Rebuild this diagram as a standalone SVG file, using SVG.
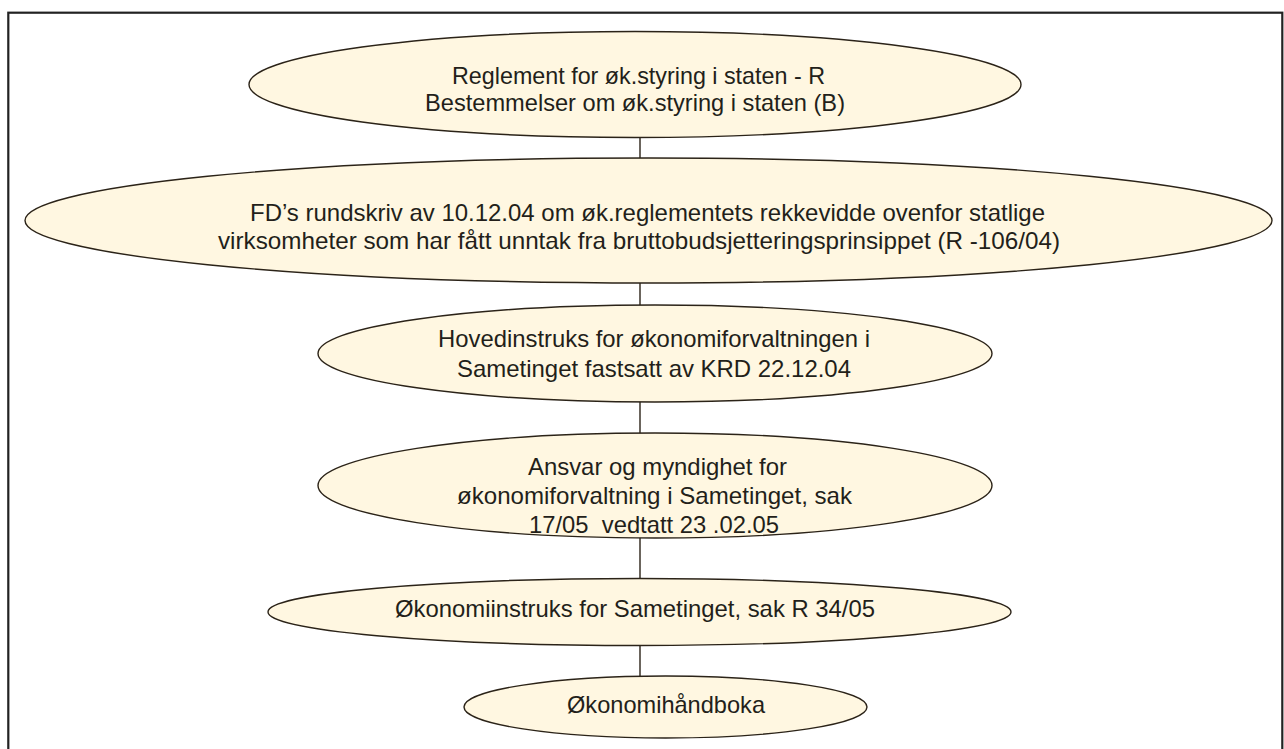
<svg xmlns="http://www.w3.org/2000/svg" width="1284" height="749" viewBox="0 0 1284 749">
<style>
.node{fill:#FFF7E1;stroke:#2B2318;stroke-width:1.4}
.lbl{font-family:"Liberation Sans",Arial,sans-serif;font-size:24px;fill:#231F1A;text-anchor:middle}
.con{stroke:#2B2318;stroke-width:1.4;fill:none}
.frame{fill:none;stroke:#222;stroke-width:2.2}
</style>
<rect class="frame" x="8.3" y="12.7" width="1274" height="760"/>
<g id="connectors">
<line class="con" x1="640" y1="137" x2="640" y2="159"/>
<line class="con" x1="640" y1="282" x2="640" y2="305"/>
<line class="con" x1="640" y1="401" x2="640" y2="434"/>
<line class="con" x1="640" y1="537" x2="640" y2="579"/>
<line class="con" x1="640" y1="645" x2="640" y2="677"/>
</g>
<g id="n1">
<ellipse class="node" cx="635" cy="84.5" rx="386" ry="53"/>
<text class="lbl" x="638.5" y="83.5" textLength="373" lengthAdjust="spacingAndGlyphs">Reglement for øk.styring i staten - R</text>
<text class="lbl" x="635" y="111" textLength="420" lengthAdjust="spacingAndGlyphs">Bestemmelser om øk.styring i staten (B)</text>
</g>
<g id="n2">
<ellipse class="node" cx="648.5" cy="220.5" rx="623.5" ry="62.5"/>
<text class="lbl" x="647.5" y="221" textLength="795" lengthAdjust="spacingAndGlyphs">FD’s rundskriv av 10.12.04 om øk.reglementets rekkevidde ovenfor statlige</text>
<text class="lbl" x="639" y="249" textLength="842" lengthAdjust="spacingAndGlyphs">virksomheter som har fått unntak fra bruttobudsjetteringsprinsippet (R -106/04)</text>
</g>
<g id="n3">
<ellipse class="node" cx="655" cy="353.5" rx="337" ry="48.5"/>
<text class="lbl" x="654" y="347" textLength="432" lengthAdjust="spacingAndGlyphs">Hovedinstruks for økonomiforvaltningen i</text>
<text class="lbl" x="654" y="377" textLength="394" lengthAdjust="spacingAndGlyphs">Sametinget fastsatt av KRD 22.12.04</text>
</g>
<g id="n4">
<ellipse class="node" cx="655" cy="485.5" rx="337" ry="52.5"/>
<text class="lbl" x="657.5" y="475" textLength="259" lengthAdjust="spacingAndGlyphs">Ansvar og myndighet for</text>
<text class="lbl" x="654.5" y="504" textLength="395" lengthAdjust="spacingAndGlyphs">økonomiforvaltning i Sametinget, sak</text>
<text class="lbl" x="654" y="533" textLength="250" lengthAdjust="spacingAndGlyphs" xml:space="preserve">17/05  vedtatt 23 .02.05</text>
</g>
<g id="n5">
<ellipse class="node" cx="639.5" cy="612" rx="371.5" ry="33.5"/>
<text class="lbl" x="635" y="617" textLength="480" lengthAdjust="spacingAndGlyphs">Økonomiinstruks for Sametinget, sak R 34/05</text>
</g>
<g id="n6">
<ellipse class="node" cx="665.5" cy="707" rx="201.5" ry="31"/>
<text class="lbl" x="666" y="713" textLength="198" lengthAdjust="spacingAndGlyphs">Økonomihåndboka</text>
</g>
</svg>
